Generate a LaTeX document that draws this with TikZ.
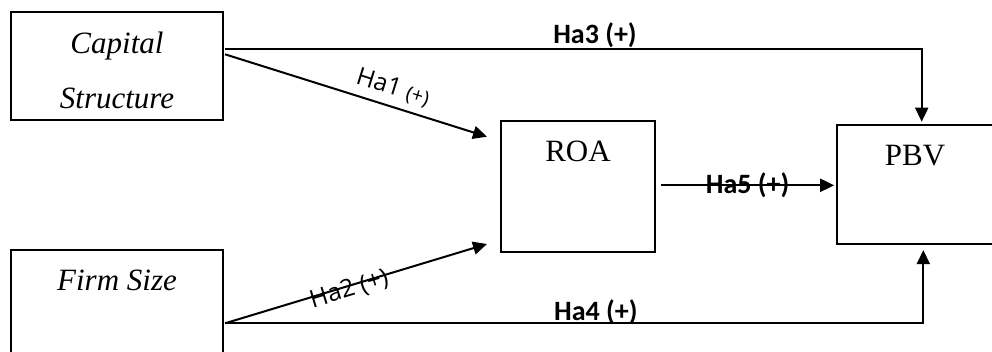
\documentclass[tikz,border=0pt]{standalone}
\usepackage{fontspec}
\setmainfont{Liberation Serif}
\newfontfamily\labbold{Carlito}
\newfontfamily\labslope{Open Sans}
\usetikzlibrary{arrows.meta,calc}
\begin{document}
\begin{tikzpicture}[x=1pt,y=-1pt,
  box/.style={draw,line width=2pt,rectangle,inner sep=0pt},
  boxtext/.style={anchor=base,inner sep=0pt,font=\fontsize{31}{37}\selectfont},
  arr/.style={line width=2pt,-{Triangle[length=14pt,width=13pt]}},
  hlab/.style={inner sep=0pt,anchor=base,font=\labbold\bfseries\fontsize{28}{32}\selectfont},
  slab/.style={inner sep=0pt,font=\labslope\fontsize{24.5}{28}\selectfont}]
\useasboundingbox (0,0) rectangle (992,351);
\clip (0,0) rectangle (992,351);
% boxes
\node[box,minimum width=212pt,minimum height=108pt] (cs) at (117,66) {};
\node[box,minimum width=212pt,minimum height=110pt] (fs) at (117,305) {};
\node[box,minimum width=154pt,minimum height=131pt] (roa) at (578,186.2) {};
\node[box,minimum width=156pt,minimum height=119.6pt] (pbv) at (915,184.5) {};
% texts
\node[boxtext] (cs1) at (117,53.3) {\itshape Capital};
\node[boxtext] (cs2) at (117,108) {\itshape Structure};
\node[boxtext] (fs1) at (117,290) {\itshape Firm Size};
\node[boxtext] (roa1) at (578,161.7) {ROA};
\node[boxtext] (pbv1) at (915,165) {PBV};
% connector end points
\coordinate (s3) at ($(cs.east)+(1,-16.7)$);
\coordinate (t3) at ($(pbv.north)+(6.7,-2)$);
\coordinate (s4) at ($(fs.east)+(1,17.7)$);
\coordinate (t4) at ($(pbv.south)+(8.3,4.8)$);
\coordinate (s1) at ($(cs.east)+(1,-11.7)$);
\coordinate (t1) at ($(roa.west)+(-13,-49.5)$);
\coordinate (s2) at ($(fs.east)+(1,18.3)$);
\coordinate (t2) at ($(roa.west)+(-13,57.8)$);
\coordinate (s5) at ($(roa.east)+(5,-0.9)$);
\coordinate (t5) at ($(pbv.west)+(-1.8,0.8)$);
% connectors
\draw[arr] (s3) -| node[hlab,pos=0.2655,yshift=6pt] (l3) {Ha3 (+)} (t3);
\draw[arr] (s4) -| node[hlab,pos=0.2655,yshift=2.7pt] (l4) {Ha4 (+)} (t4);
\draw[arr] (s1) -- node[slab,sloped,pos=0.62,anchor=south,yshift=7pt] (l1) {Ha1 {\fontsize{20}{22}\selectfont(+)}} (t1);
\draw[arr] (s2) -- node[slab,sloped,pos=0.47,anchor=center,yshift=-4pt] (l2) {Ha2 (+)} (t2);
\draw[arr] (s5) -- node[hlab,pos=0.5,yshift=-8.5pt] (l5) {Ha5 (+)} (t5);
\end{tikzpicture}
\end{document}
